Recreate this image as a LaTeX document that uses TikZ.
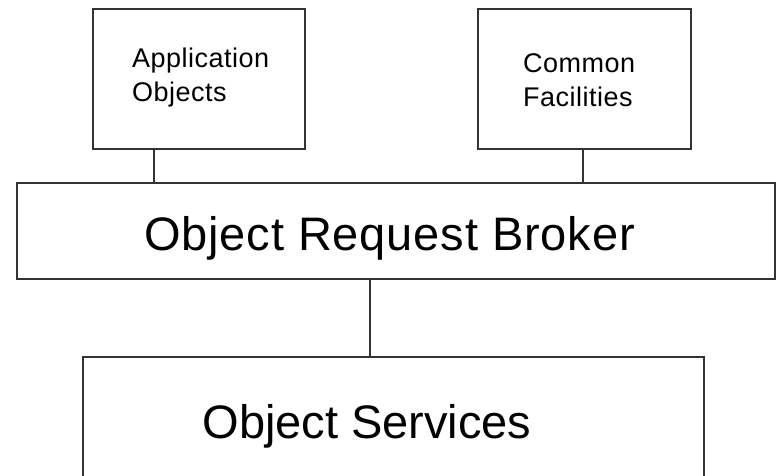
\documentclass[tikz,border=0pt]{standalone}
\usepackage{fontspec}
\setmainfont{Liberation Sans}
\usetikzlibrary{positioning}
\tikzset{
    layer/.style={draw=black!80, line width=1.6pt, inner sep=0pt},
    small/.style={inner sep=0pt, align=left, font=\fontsize{27}{34}\selectfont\addfontfeature{LetterSpace=1.8}},
    big/.style={inner sep=0pt, font=\fontsize{47}{56}\selectfont},
    bigwide/.style={inner sep=0pt, font=\fontsize{47}{56}\selectfont\addfontfeature{LetterSpace=1.8}}
}

\begin{document}
\begin{tikzpicture}[x=1pt, y=-1pt]
    \useasboundingbox (0, 0) rectangle (778, 475);
    \clip (0, 0) rectangle (778, 475);

    % the two boxes on top
    \node[layer, minimum width=212pt, minimum height=140pt] (app) at (199, 79) {};
    \node[layer, minimum width=213pt, minimum height=140pt] (cf) at (584.5, 79) {};
    \node[small, anchor=north west] (applabel) at (132, 48) {Application\\Objects};
    \node[small, anchor=north west] (cflabel) at (523, 53) {Common\\Facilities};

    % broker and services
    \node[layer, minimum width=758pt, minimum height=96pt] (orb) at (396, 231) {};
    \node[bigwide, anchor=base] (orblabel) at (389.5, 250) {Object Request Broker};
    \node[layer, minimum width=621pt, minimum height=143pt] (os) at (393.5, 428.5) {};
    \node[big, anchor=base] (oslabel) at (367, 438) {Object Services};

    \draw[black!80, line width=1.6pt]
    ([xshift=62pt]app.south west) edge ([xshift=62pt]app.south west |- orb.north)
    ([xshift=-1.5pt]cf.south) edge ([xshift=-1.5pt]cf.south |- orb.north)
    ([xshift=288pt]os.north west) edge ([xshift=288pt]os.north west |- orb.south);
\end{tikzpicture}
\end{document}
